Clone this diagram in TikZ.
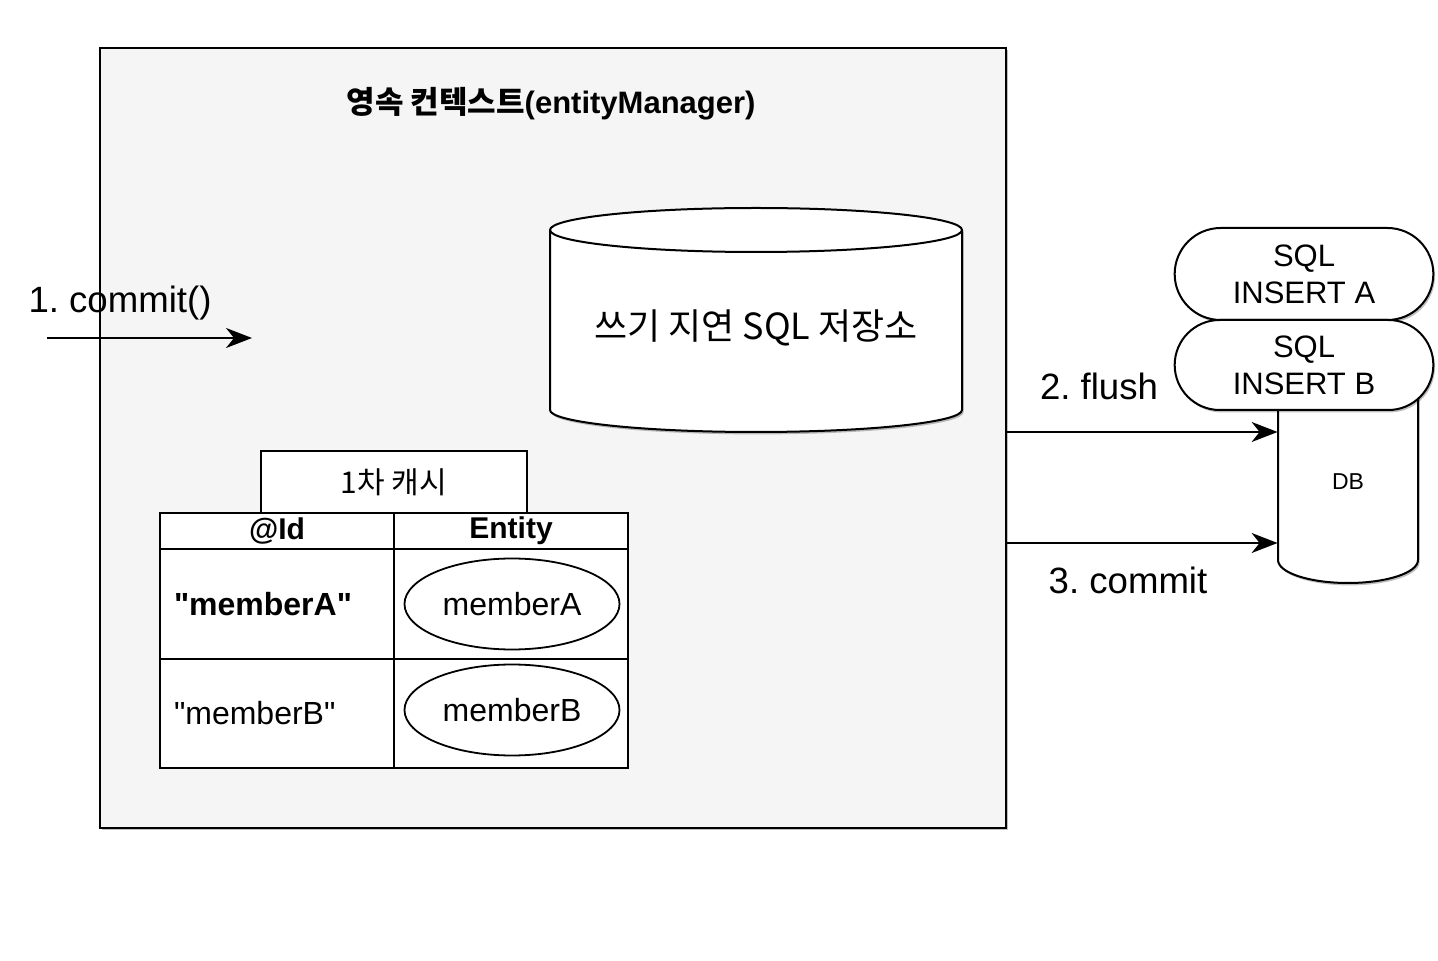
\documentclass[tikz,border=0pt]{standalone}
\usepackage{fontspec}
\setmainfont{Liberation Sans}
\newfontfamily\kr{Noto Sans CJK KR}
\usepackage{tikz}
\usetikzlibrary{shapes.geometric,shapes.misc,arrows.meta,positioning,shadows}
\frenchspacing

\begin{document}
\begin{tikzpicture}[
    x=0.5pt, y=-0.5pt,
    softshadow/.style={
        drop shadow={shadow xshift=0.8pt, shadow yshift=-1.2pt, opacity=0.25, fill=black}
    },
    context/.style={
        rectangle,
        draw=black,
        line width=1.3pt,
        fill=black!4,
        minimum width=453pt,
        minimum height=390pt,
        softshadow
    },
    drum/.style={
        draw=black,
        line width=1pt,
        fill=white,
        softshadow
    },
    cell/.style={
        rectangle,
        draw=black,
        line width=1pt,
        fill=white,
        minimum width=117pt,
        inner sep=0pt
    },
    entity/.style={
        ellipse,
        draw=black,
        line width=0.9pt,
        fill=white,
        minimum width=103pt,
        minimum height=45.5pt,
        font=\fontsize{16}{19}\selectfont
    },
    query/.style={
        rounded rectangle,
        draw=black,
        line width=1pt,
        fill=white,
        minimum width=136pt,
        align=center,
        softshadow,
        font=\fontsize{15.5}{18.5}\selectfont
    },
    arrow/.style={
        -{Stealth[length=13pt,width=10pt,inset=4pt]},
        line width=1pt
    },
    steplabel/.style={
        font=\fontsize{18.3}{21}\selectfont
    }
]

% canvas
\path[fill=white] (0,0) rectangle (1438,961);

% persistence context
\node[context] (ctx) at (553,438) {};
\node[font=\bfseries\fontsize{15.5}{18}\selectfont] (title) at (551,104) {{\kr 영속 컨텍스트}(entityManager)};

% write-behind store
\path[drum] (550,230) -- (550,410) arc[start angle=180, end angle=0, x radius=206, y radius=22]
    -- (962,230) arc[start angle=0, end angle=-180, x radius=206, y radius=22] -- cycle;
\draw[line width=1pt] (550,230) arc[start angle=180, end angle=0, x radius=206, y radius=22];
\node[font=\kr\fontsize{18}{21}\selectfont] (sqlstore) at (756,328) {쓰기 지연 SQL 저장소};

% first-level cache
\node[cell, minimum width=133pt, minimum height=31pt, font=\kr\fontsize{15}{18}\selectfont] (cache) at (394,482) {1차 캐시};
\node[cell, minimum height=18pt, font=\bfseries\fontsize{15}{18}\selectfont] (hid) at (277,531) {@Id};
\node[cell, minimum height=18pt, font=\bfseries\fontsize{15}{18}\selectfont] (hent) at (511,531) {Entity};
\node[cell, minimum height=55pt, text width=103pt, inner xsep=7pt, align=left,
      font=\bfseries\fontsize{16}{19}\selectfont] (ida) at (277,604) {\textquotedbl memberA\textquotedbl};
\node[cell, minimum height=55pt] (enta) at (511,604) {};
\node[cell, minimum height=54.5pt, text width=103pt, inner xsep=7pt, align=left,
      font=\fontsize{16}{19}\selectfont] (idb) at (277,713.5) {\textquotedbl memberB\textquotedbl};
\node[cell, minimum height=54.5pt] (entb) at (511,713.5) {};
\node[entity] (ma) at (512,604) {memberA};
\node[entity] (mb) at (512,710) {memberB};

% database
\path[drum] (1278,380) -- (1278,560) arc[start angle=180, end angle=0, x radius=70, y radius=23]
    -- (1418,380) arc[start angle=0, end angle=-180, x radius=70, y radius=23] -- cycle;
\node[minimum width=70pt, minimum height=101.5pt, inner sep=0pt,
      font=\fontsize{11.5}{14}\selectfont] (db) at (1348,481.5) {DB};
\node[query, minimum height=46pt] (insa) at (1304,274) {SQL\\INSERT A};
\node[query, minimum height=45pt] (insb) at (1304,365) {SQL\\INSERT B};

% commit
\coordinate (cin) at (47,338);
\coordinate (cout) at (252,338);
\draw[arrow] (cin) -- (cout);
\node[steplabel] (c1) at (120,303) {1. commit()};

% flush and commit
\draw[arrow] ([yshift=3pt]ctx.east) -- ([yshift=24.75pt]db.west);
\draw[arrow] ([yshift=-52.5pt]ctx.east) -- ([yshift=-30.75pt]db.west);
\node[steplabel] (c2) at (1099,386) {2. flush};
\node[steplabel] (c3) at (1128,580) {3. commit};

\end{tikzpicture}
\end{document}
